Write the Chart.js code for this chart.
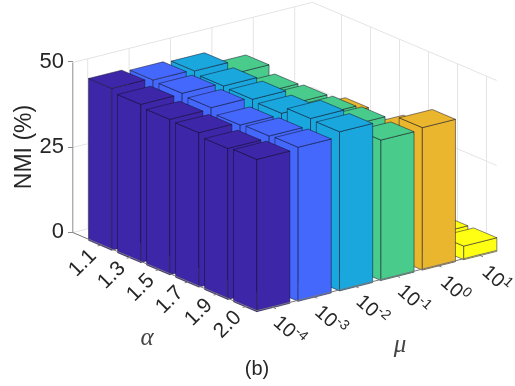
<!doctype html>
<html>
<head>
<meta charset="utf-8">
<style>
  html, body { margin: 0; background: #fff; }
  canvas { display: block; }
</style>
<script src="https://cdn.jsdelivr.net/npm/chart.js@4"></script>
</head>
<body>
<canvas id="nmi" width="515" height="386"></canvas>
<script>
  const alphaLabels = ["1.1", "1.3", "1.5", "1.7", "1.9", "2.0"];
  const muExponents = ["-4", "-3", "-2", "-1", "0", "1"];
  const zTicks = [0, 25, 50];

  // one list per mu, values run over alpha
  const nmiMu4 = [47.6, 46.5, 45.7, 45.4, 44.4, 44.8];
  const nmiMu3 = [47.0, 46.7, 46.1, 44.6, 45.0, 45.3];
  const nmiMu2 = [46.6, 45.8, 45.5, 45.0, 47.1, 46.8];
  const nmiMu1 = [42.9, 40.9, 41.3, 41.6, 42.1, 41.3];
  const nmiMu0 = [31.0, 32.0, 34.5, 32.0, 36.6, 41.9];
  const nmiMuP1 = [3.4, 3.5, 3.4, 3.6, 3.9, 4.0];
  const nmiRows = [nmiMu4, nmiMu3, nmiMu2, nmiMu1, nmiMu0, nmiMuP1];

  const barColors = ["#3e26a8", "#4468fb", "#1aa7de", "#48cb8b", "#eab62e", "#ffff14"];

  // oblique projection, in scale units: x is in mu steps, y is in NMI
  const alphaToX = 0.7005;
  const alphaToY = -3.618;
  const muToY = 3.059;
  const baseY = -2.676;
  const barHalf = 0.4;
  const box = { aMin: -1, aMax: 5.35, mMin: -0.36, mMax: 5.43, zTop: 50 };

  const project = (chart, a, m, z) => ({
    x: chart.scales.x.getPixelForValue(m + a * alphaToX),
    y: chart.scales.y.getPixelForValue(z + a * alphaToY + m * muToY + baseY),
  });

  function line(ctx, pts, color) {
    ctx.strokeStyle = color;
    ctx.beginPath();
    pts.forEach((p, i) => (i ? ctx.lineTo(p.x, p.y) : ctx.moveTo(p.x, p.y)));
    ctx.stroke();
  }

  function face(ctx, pts, color) {
    ctx.fillStyle = color;
    ctx.strokeStyle = "rgba(20,15,40,0.5)";
    ctx.beginPath();
    pts.forEach((p, i) => (i ? ctx.lineTo(p.x, p.y) : ctx.moveTo(p.x, p.y)));
    ctx.closePath();
    ctx.fill();
    ctx.stroke();
  }

  function drawWalls(chart) {
    const ctx = chart.ctx;
    const P = (a, m, z) => project(chart, a, m, z);
    const { aMin, aMax, mMin, mMax, zTop } = box;
    const grid = "#e4e4e4";
    ctx.lineWidth = 1;
    muExponents.forEach((_, m) => line(ctx, [P(aMin, m, 0), P(aMin, m, zTop)], grid));
    alphaLabels.forEach((_, a) => line(ctx, [P(a, mMax, 0), P(a, mMax, zTop)], grid));
    zTicks.forEach((z) => line(ctx, [P(aMin, mMin, z), P(aMin, mMax, z), P(aMax, mMax, z)], grid));
    muExponents.forEach((_, m) => line(ctx, [P(aMin, m, 0), P(aMax, m, 0)], grid));
    alphaLabels.forEach((_, a) => line(ctx, [P(a, mMin, 0), P(a, mMax, 0)], grid));
    // z axis on the left corner
    line(ctx, [P(aMin, mMin, 0), P(aMin, mMin, zTop)], "#8c8c8c");
  }

  function drawBars(chart) {
    const ctx = chart.ctx;
    ctx.lineWidth = 1;
    // back to front
    alphaLabels.forEach((_, a) => {
      for (let m = muExponents.length - 1; m >= 0; m--) {
        const z = nmiRows[m][a];
        const h = barHalf;
        const left = [project(chart, a - h, m - h, 0), project(chart, a - h, m - h, z)];
        const front = [project(chart, a + h, m - h, 0), project(chart, a + h, m - h, z)];
        const right = [project(chart, a + h, m + h, 0), project(chart, a + h, m + h, z)];
        const back = project(chart, a - h, m + h, z);
        face(ctx, [left[0], front[0], front[1], left[1]], barColors[m]);
        face(ctx, [front[0], right[0], right[1], front[1]], barColors[m]);
        face(ctx, [left[1], front[1], right[1], back], barColors[m]);
      }
    });
  }

  function drawFloorAxes(chart) {
    const ctx = chart.ctx;
    const P = (a, m, z) => project(chart, a, m, z);
    const { aMin, aMax, mMin, mMax } = box;
    const axis = "#777";
    ctx.lineWidth = 1;
    line(ctx, [P(aMin, mMin, 0), P(aMax, mMin, 0), P(aMax, mMax, 0)], axis);
    alphaLabels.forEach((_, a) => line(ctx, [P(a, mMin, 0), P(a, mMin - 0.1, 0)], axis));
    muExponents.forEach((_, m) => line(ctx, [P(aMax, m, 0), P(aMax + 0.14, m, 0)], axis));

    ctx.fillStyle = "#262626";
    ctx.textAlign = "center";
    ctx.textBaseline = "middle";
    alphaLabels.forEach((label, a) => {
      const p = P(a, mMin, 0);
      ctx.save();
      ctx.translate(p.x - 19, p.y + 18.3);
      ctx.rotate(-Math.PI / 4);
      ctx.font = "21px 'Liberation Sans'";
      ctx.fillText(label, 0, 0);
      ctx.restore();
    });
    muExponents.forEach((exp, m) => {
      const p = P(aMax, m, 0);
      ctx.save();
      ctx.translate(p.x + 17, p.y + 24.5);
      ctx.rotate(Math.PI * 42 / 180);
      ctx.font = "20px 'Liberation Sans'";
      const w1 = ctx.measureText("10").width;
      ctx.textAlign = "left";
      ctx.font = "14px 'Liberation Sans'";
      const w2 = ctx.measureText(exp).width;
      const start = -(w1 + w2) / 2;
      ctx.fillText(exp, start + w1, -6);
      ctx.font = "20px 'Liberation Sans'";
      ctx.fillText("10", start, 0);
      ctx.restore();
    });

    ctx.textAlign = "center";
    ctx.fillStyle = "#444";
    ctx.font = "italic 25px 'Liberation Serif'";
    ctx.fillText("α", 147, 338);
    ctx.fillText("μ", 400, 345);
    ctx.fillStyle = "#262626";
    ctx.font = "20px 'Liberation Sans'";
    ctx.fillText("(b)", 257, 369);
  }

  const bars3d = {
    id: "bars3d",
    beforeDatasetsDraw(chart) {
      drawWalls(chart);
      drawBars(chart);
      drawFloorAxes(chart);
    },
  };

  new Chart(document.getElementById("nmi"), {
    type: "scatter",
    plugins: [bars3d],
    data: {
      datasets: nmiRows.map((vals, m) => ({
        label: "10^" + muExponents[m],
        data: vals.map((z, a) => ({
          x: m + a * alphaToX,
          y: z + a * alphaToY + m * muToY + baseY,
        })),
        pointRadius: 0,
        backgroundColor: barColors[m],
      })),
    },
    options: {
      responsive: false,
      animation: false,
      layout: { padding: { bottom: 92 } },
      plugins: { legend: { display: false }, tooltip: { enabled: false } },
      scales: {
        x: { type: "linear", display: false, min: -1.0556, max: 9.621 },
        y: {
          type: "linear",
          min: -18.235,
          max: 68.235,
          afterFit(scale) {
            scale.width = 73;
            scale.paddingTop = 0;
            scale.paddingBottom = 0;
          },
          afterBuildTicks(scale) { scale.ticks = zTicks.map((v) => ({ value: v })); },
          border: { display: false },
          grid: { drawOnChartArea: false, tickLength: 5, color: "#8c8c8c" },
          ticks: {
            color: "#262626",
            padding: 4,
            font: { family: "'Liberation Sans'", size: 22 },
          },
          title: {
            display: true,
            text: "NMI (%)",
            color: "#262626",
            font: { family: "'Liberation Sans'", size: 23 },
            padding: { top: 11, bottom: 0 },
          },
        },
      },
    },
  });
</script>
</body>
</html>
